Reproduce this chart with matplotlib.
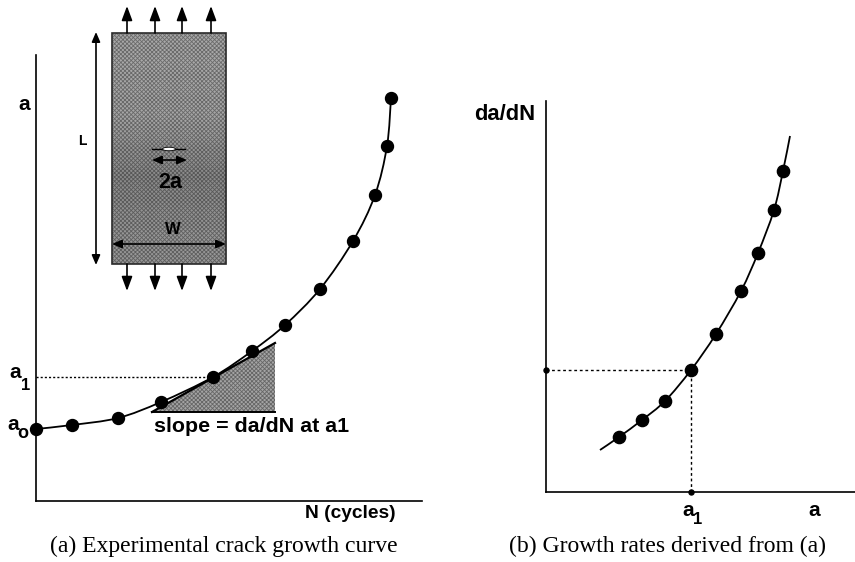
import matplotlib
matplotlib.use('Agg')
import matplotlib.pyplot as plt
from matplotlib.patches import Rectangle, Polygon, Ellipse, PathPatch
from matplotlib.path import Path

plt.rcParams['font.family'] = ['Liberation Sans', 'DejaVu Sans']
plt.rcParams['hatch.linewidth'] = 0.6

W, H = 855, 562

# Panel (a): crack length against cycles (arbitrary units)
cycles = [0, 36, 82, 125, 177, 216, 249, 284, 317, 339, 351, 355]
crack = [72, 76, 83, 99, 124, 150, 176, 212, 260, 306, 355, 403]

# Panel (b): growth rate against crack length
length = [73, 96, 119, 145, 170, 195, 212, 228, 237]
rate = [55, 72, 91, 122, 158, 201, 239, 282, 321]
# where the drawn curve starts and stops beyond the points
curve_len = [54, 73, 96, 119, 145, 170, 195, 212, 228, 237, 244]
curve_rate = [42, 55, 72, 91, 122, 158, 201, 239, 282, 321, 356]


def px_axes(fig, x0, x1, y_top, y_bot):
    return fig.add_axes([x0 / W, 1 - y_bot / H, (x1 - x0) / W, (y_bot - y_top) / H])


def style_axes(ax):
    ax.patch.set_alpha(0)
    for side in ['top', 'right']:
        ax.spines[side].set_visible(False)
    for side in ['left', 'bottom']:
        ax.spines[side].set_linewidth(1.2)
    ax.set_xticks([])
    ax.set_yticks([])


# smooth line through the read points, as bezier segments
def smooth_line(ax, xs, ys, **kw):
    verts = [(xs[0], ys[0])]
    codes = [Path.MOVETO]
    n = len(xs)
    for i in range(n - 1):
        p0 = max(i - 1, 0)
        p3 = min(i + 2, n - 1)
        verts.append((xs[i] + (xs[i + 1] - xs[p0]) / 6, ys[i] + (ys[i + 1] - ys[p0]) / 6))
        verts.append((xs[i + 1] - (xs[p3] - xs[i]) / 6, ys[i + 1] - (ys[p3] - ys[i]) / 6))
        verts.append((xs[i + 1], ys[i + 1]))
        codes += [Path.CURVE4] * 3
    ax.add_patch(PathPatch(Path(verts, codes), facecolor='none', edgecolor='k', **kw))


fig = plt.figure(figsize=(W / 100, H / 100), dpi=100)

# overlay for the drawing parts and free text, in picture pixels
top = fig.add_axes([0, 0, 1, 1], zorder=3)
top.axis('off')

ax1 = px_axes(fig, 36, 422, 55, 501)
ax1.set_xlim(0, 386)
ax1.set_ylim(0, 446)
style_axes(ax1)
ax1.add_patch(Polygon([(116, 89), (239, 89), (239, 158)], facecolor='#a4a4a4',
                      edgecolor='#666666', hatch='xxxxxxxx', lw=0, zorder=1))
ax1.plot([0, 177], [124, 124], color='k', lw=1, ls=(0, (1.5, 1.5)), zorder=2)
ax1.plot([116, 239], [89, 158], color='k', lw=1.6, zorder=2)
ax1.plot([116, 239], [89, 89], color='k', lw=1.4, zorder=2)
smooth_line(ax1, cycles, crack, lw=1.3, zorder=3)
ax1.plot(cycles, crack, 'o', color='k', ms=8.6, clip_on=False, zorder=4)

ax2 = px_axes(fig, 546, 855, 101, 492)
ax2.set_xlim(0, 309)
ax2.set_ylim(0, 391)
style_axes(ax2)
ax2.plot([0, 145], [122, 122], color='k', lw=1, ls=(0, (2, 2)))
ax2.plot([145, 145], [0, 122], color='k', lw=1, ls=(0, (2, 2)))
smooth_line(ax2, curve_len, curve_rate, lw=1.3)
ax2.plot(length, rate, 'o', color='k', ms=8.8, zorder=4)
ax2.plot([0, 145], [122, 0], 'o', color='k', ms=3.6, clip_on=False, zorder=4)

# specimen, lighter at the top and darker toward the bottom
top.add_patch(Rectangle((112, 33), 114, 231, facecolor='#a8a8a8', edgecolor='#6a6a6a',
                        lw=0, hatch='xxxxxxxx'))
shade = [[[0, 0, 0, 0.0]], [[0, 0, 0, 0.02]], [[0, 0, 0, 0.18]], [[0, 0, 0, 0.1]]]
top.imshow(shade, extent=(112, 226, 264, 33), aspect='auto', interpolation='bilinear', zorder=1.5)
top.set_xlim(0, W)
top.set_ylim(H, 0)
top.add_patch(Rectangle((112, 33), 114, 231, facecolor='none', edgecolor='#2a2a2a', lw=1.2, zorder=2))
top.add_patch(Ellipse((169, 149), 13, 3.5, facecolor='white', edgecolor='k', lw=0.6, zorder=3))
top.plot([152, 185], [149, 149], color='k', lw=1, zorder=2)
arrow = dict(arrowstyle='-|>,head_length=0.62,head_width=0.23', color='k', lw=1.2,
             mutation_scale=14, shrinkA=0, shrinkB=0)
both = dict(arrowstyle='<|-|>,head_length=0.58,head_width=0.25', color='k', lw=1.2,
            mutation_scale=10, shrinkA=0, shrinkB=0)
for x in [127, 155, 182, 211]:
    top.annotate('', xy=(x, 6), xytext=(x, 33), arrowprops=arrow)
    top.annotate('', xy=(x, 291), xytext=(x, 264), arrowprops=arrow)
top.annotate('', xy=(96, 32), xytext=(96, 265), arrowprops=both)
top.annotate('', xy=(112, 244), xytext=(226, 244), arrowprops=both)
top.annotate('', xy=(152, 160), xytext=(187, 160), arrowprops=both)

bold = dict(fontweight='bold', color='k', va='center')
top.text(82, 141, 'L', fontsize=10, ha='center', **bold)
top.text(170, 182, '2a', fontsize=15.5, ha='center', **bold)
top.text(173, 230, 'W', fontsize=12, ha='center', **bold)
top.text(18, 105, 'a', fontsize=15, **bold)
top.text(9, 373, 'a', fontsize=15, **bold)
top.text(21, 385, '1', fontsize=12, **bold)
top.text(7, 424, 'a', fontsize=15, **bold)
top.text(17, 433, 'o', fontsize=13, **bold)
top.text(154, 427, 'slope = da/dN at a1', fontsize=15.4, **bold)
top.text(305, 514, 'N (cycles)', fontsize=13.8, **bold)
top.text(474, 115, 'da/dN', fontsize=15.8, **bold)
top.text(682, 510, 'a', fontsize=15, **bold)
top.text(693, 519, '1', fontsize=12, **bold)
top.text(808, 510, 'a', fontsize=15, **bold)

cap = dict(family='Liberation Serif', fontsize=17, color='k', va='center')
top.text(50, 546, '(a) Experimental crack growth curve', **cap)
top.text(509, 546, '(b) Growth rates derived from (a)', **cap)

fig.savefig('out.png', dpi=100)
